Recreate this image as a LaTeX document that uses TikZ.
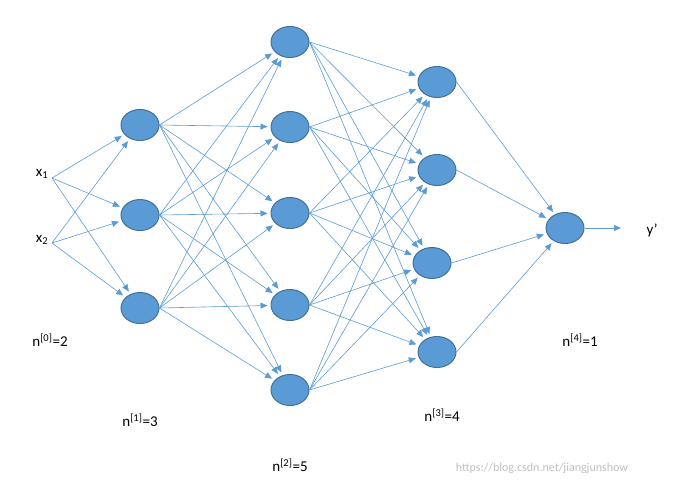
\documentclass[tikz,border=0pt]{standalone}
\usepackage{fontspec}
\setmainfont{Carlito}
\usetikzlibrary{arrows.meta,shapes.geometric}
\begin{document}
\begin{tikzpicture}[x=1pt,y=-1pt,
  neuron/.style={ellipse,draw=nodeborder,fill=nodefill,line width=1pt,minimum width=38pt,minimum height=31pt,inner sep=0pt},
  conn/.style={draw=linecol,line width=0.6pt,shorten >=3pt,-{Triangle[length=7pt,width=6pt]}},
  lbl/.style={font=\fontsize{15}{18}\selectfont,inner sep=0pt}]
\definecolor{nodefill}{HTML}{5B9BD5}
\definecolor{nodeborder}{HTML}{41719C}
\definecolor{linecol}{HTML}{5B9BD5}
\useasboundingbox (0,0) rectangle (693,488);
\node[lbl] (x1) at (42,174) {x\textsubscript{1}};
\node[lbl] (x2) at (42,240) {x\textsubscript{2}};
\coordinate (s1) at (52,178);
\coordinate (s2) at (52,243);
\node[neuron] (a1) at (140,125) {};
\node[neuron] (a2) at (140,215) {};
\node[neuron] (a3) at (140,308) {};
\node[neuron] (b1) at (290,42) {};
\node[neuron] (b2) at (290,127) {};
\node[neuron] (b3) at (290,213) {};
\node[neuron] (b4) at (290,305) {};
\node[neuron] (b5) at (290,390) {};
\node[neuron] (c1) at (437,82) {};
\node[neuron] (c2) at (437,170) {};
\node[neuron] (c3) at (432,263) {};
\node[neuron] (c4) at (437,352) {};
\node[neuron] (d1) at (565,228) {};
\coordinate (out) at (621,228);
\node[lbl] (y) at (652,230) {y’};
\foreach \s in {s1,s2}{\foreach \t in {a1,a2,a3}{\draw[conn] (\s) -- (\t);}}
\foreach \s in {a1,a2,a3}{\foreach \t in {b1,b2,b3,b4,b5}{\draw[conn] (\s.east) -- (\t);}}
\foreach \s in {b1,b2,b3,b4,b5}{\foreach \t in {c1,c2,c3,c4}{\draw[conn] (\s.east) -- (\t);}}
\foreach \s in {c1,c2,c3,c4}{\draw[conn] (\s.east) -- (d1);}
\draw[conn,shorten >=0pt] (d1.east) -- (out);
\node[lbl] (l0) at (50,340) {n\textsuperscript{[0]}=2};
\node[lbl] (l1) at (140,420) {n\textsuperscript{[1]}=3};
\node[lbl] (l2) at (290,465) {n\textsuperscript{[2]}=5};
\node[lbl] (l3) at (442,415) {n\textsuperscript{[3]}=4};
\node[lbl] (l4) at (580,340) {n\textsuperscript{[4]}=1};
\node[font=\fontsize{12}{14}\selectfont,text=black!25,inner sep=0pt] (wm) at (542,468) {https://blog.csdn.net/jiangjunshow};
\end{tikzpicture}
\end{document}
